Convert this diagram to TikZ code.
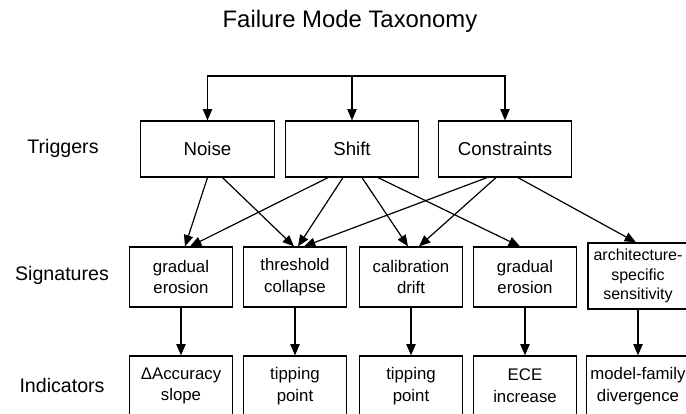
\documentclass[tikz,border=0pt]{standalone}
\usepackage{fontspec}
\setmainfont{Liberation Sans}
\usepackage{tikz}
\usetikzlibrary{positioning,arrows.meta,calc}
\tikzset{
  heading/.style={font=\fontsize{17.9}{20}\selectfont},
  rowlab/.style ={font=\fontsize{14.7}{17}\selectfont},
  trig/.style   ={draw=black, line width=0.9pt, minimum width=100pt, minimum height=42pt, inner sep=2pt, font=\fontsize{14}{16}\selectfont},
  sig/.style    ={draw=black, line width=0.9pt, minimum width=77pt, minimum height=45pt, inner sep=2pt, align=center, font=\fontsize{12.6}{16.3}\selectfont},
  sigtall/.style={sig, minimum width=75pt, minimum height=49.5pt, font=\fontsize{12}{14.5}\selectfont},
  ind/.style    ={sig},
  edge/.style   ={-{Triangle[length=8.5pt,width=7pt]}, line width=0.9pt},
}
\begin{document}
\begin{tikzpicture}[x=0.75pt,y=-0.75pt]
  \useasboundingbox (0,0) rectangle (686,414);
  \node[heading] (title) at (350,21) {Failure Mode Taxonomy};

  \node[rowlab] (trglab) at (63,148) {Triggers};
  \node[rowlab] (siglab) at (62,275) {Signatures};
  \node[rowlab] (indlab) at (62,385) {Indicators};

  \node[trig] (noise)  at (207.5,149) {Noise};
  \node[trig] (shift)  at (352,149)   {Shift};
  \node[trig] (constr) at (505,149)   {Constraints};

  \node[sig]     (erosA)  at (181,277) {gradual\\erosion};
  \node[sig]     (thresh) at (295,277) {threshold\\collapse};
  \node[sig]     (calib)  at (411,277) {calibration\\drift};
  \node[sig]     (erosB)  at (525,277) {gradual\\erosion};
  \node[sigtall] (arch)   at (638,276) {architecture-\\specific\\sensitivity};

  \node[ind] (accsl)  at (181,386) {ΔAccuracy\\slope};
  \node[ind] (tipA)   at (295,386) {tipping\\point};
  \node[ind] (tipB)   at (411,386) {tipping\\point};
  \node[ind] (ece)    at (525,386) {ECE\\increase};
  \node[ind] (famdiv) at (638,386) {model-family\\divergence};

  \coordinate (fork) at (352,76);
  \draw[edge] (fork) -| (noise.north);
  \draw[edge] (fork) -- (shift.north);
  \draw[edge] (fork) -| (constr.north);

  \draw[edge] ($(noise.south)+(0,0)$)   -- ($(erosA.north)+(4,0)$);
  \draw[edge] ($(noise.south)+(15,0)$)  -- ($(thresh.north)+(-1,0)$);
  \draw[edge] ($(shift.south)+(-24,0)$) -- ($(erosA.north)+(9,0)$);
  \draw[edge] ($(shift.south)+(-9,0)$)  -- ($(thresh.north)+(3,0)$);
  \draw[edge] ($(shift.south)+(10,0)$)  -- ($(calib.north)+(-3,0)$);
  \draw[edge] ($(shift.south)+(26,0)$)  -- ($(erosB.north)+(-5,0)$);
  \draw[edge] ($(constr.south)+(-18,0)$) -- ($(thresh.north)+(9,0)$);
  \draw[edge] ($(constr.south)+(-9,0)$)  -- ($(calib.north)+(8,0)$);
  \draw[edge] ($(constr.south)+(13,0)$)  -- ($(arch.north)+(-2,0)$);

  \draw[edge] (erosA)  -- (accsl);
  \draw[edge] (thresh) -- (tipA);
  \draw[edge] (calib)  -- (tipB);
  \draw[edge] (erosB)  -- (ece);
  \draw[edge] (arch)   -- (famdiv);
\end{tikzpicture}
\end{document}
